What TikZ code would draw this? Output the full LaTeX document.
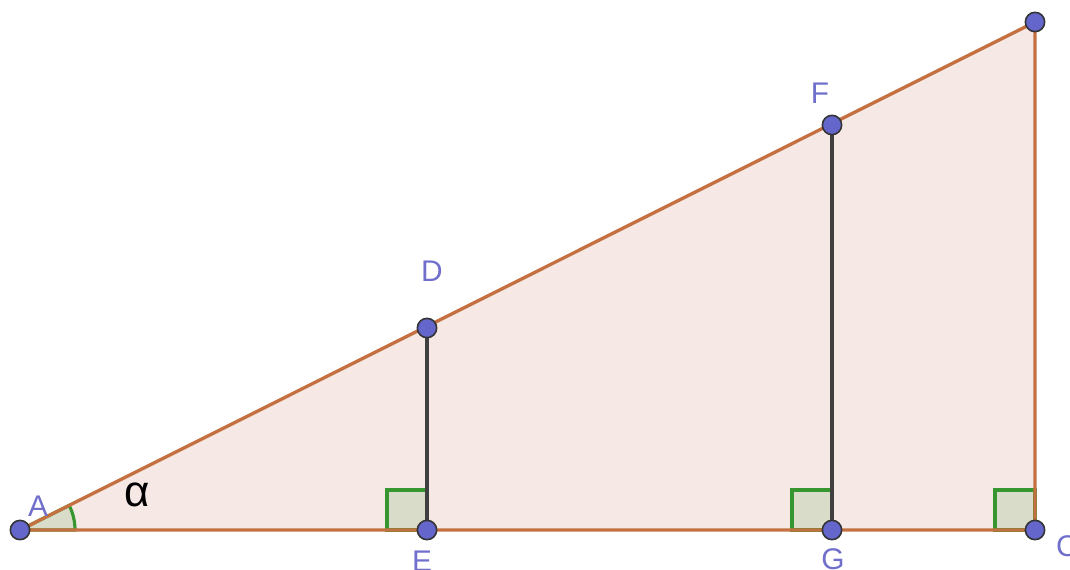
\documentclass[tikz,border=0pt]{standalone}
\usepackage{fontspec}
\setmainfont{Liberation Sans}
\usepackage{tikz}
\usetikzlibrary{arrows.meta,positioning,calc}
\usepackage{xcolor}
\definecolor{edgeorange}{RGB}{196,112,64}
\definecolor{trifill}   {RGB}{246,233,229}
\definecolor{ptblue}    {RGB}{100,102,204}
\definecolor{lblblue}   {RGB}{112,112,204}
\definecolor{rightgreen}{RGB}{56,150,48}
\definecolor{rightfill} {RGB}{218,220,202}
\definecolor{segdark}   {RGB}{64,64,64}

\begin{document}
\begin{tikzpicture}[x=0.02cm, y=-0.02cm,
      side/.style={draw=edgeorange, line width=1.9pt},
      seg/.style={draw=segdark, line width=2pt},
      rightmark/.style={draw=rightgreen, fill=rightfill, line width=1.8pt},
      pt/.style={circle, draw=black!80, fill=ptblue, line width=0.9pt,
        minimum size=11pt, inner sep=0pt},
      lbl/.style={text=lblblue, font=\fontsize{17}{17}\selectfont}
    ]
      \useasboundingbox (0,0) rectangle (1070,569);
      \clip (0,0) rectangle (1070,569);
      \coordinate (A) at (20,530);
      \coordinate (E) at (427,530);
      \coordinate (G) at (832,530);
      \coordinate (C) at (1035,530);
      \coordinate (B) at (1035,22);
      \coordinate (D) at (427,328);
      \coordinate (F) at (832,125);

      % triangle
      \fill[trifill] (A) -- (C) -- (B) -- cycle;

      % right angle marks and angle at A
      \foreach \p in {E,G,C}
        \draw[rightmark] (\p) rectangle ($(\p)+(-40,-40)$);
      \draw[rightmark] (A) -- ($(A)+(55,0)$) arc[start angle=0, end angle=-26.57, radius=55] -- cycle;

      \draw[side] (A) -- (C) -- (B) -- cycle;
      \draw[seg] (D) -- (E);
      \draw[seg] (F) -- (G);

      \foreach \p in {A,E,G,C,B,D,F}
        \node[pt] (pt\p) at (\p) {};

      \node[lbl] (lA) at (38,506) {A};
      \node[lbl] (lD) at (432,271) {D};
      \node[lbl] (lE) at (422,561) {E};
      \node[lbl] (lF) at (820,93) {F};
      \node[lbl] (lG) at (833,559) {G};
      \node[lbl] (lC) at (1067,546) {C};
      \node[font=\fontsize{25}{25}\selectfont] (alpha) at (137,495) {α};
    \end{tikzpicture}
\end{document}
